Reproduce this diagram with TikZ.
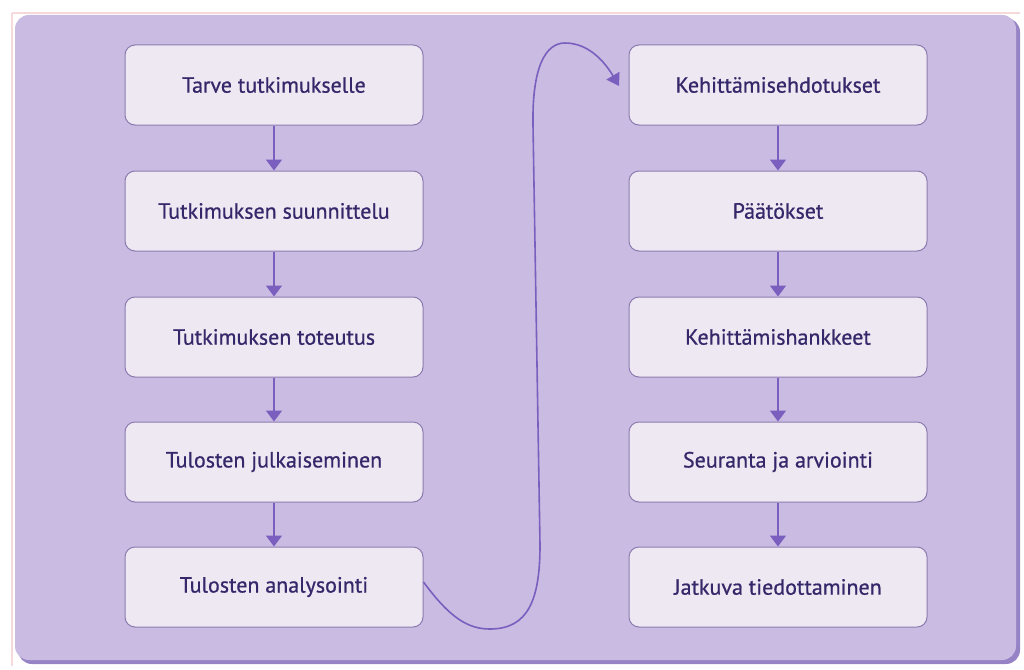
\documentclass[tikz,border=0pt]{standalone}
\usepackage{fontspec}
\setmainfont{PT Sans}
\newfontfamily\boxfont[FakeBold=0.7]{PT Sans}
\usetikzlibrary{arrows.meta}
\definecolor{panel}{HTML}{CABBE2}
\definecolor{panelshadow}{HTML}{9683C6}
\definecolor{boxfill}{HTML}{EEE8F2}
\definecolor{boxline}{HTML}{8C7BB0}
\definecolor{txt}{HTML}{35286A}
\definecolor{arr}{HTML}{7A5FBF}
\definecolor{pinkline}{HTML}{F6D9DA}
\tikzset{
  stepbox/.style={draw=boxline, line width=1pt, fill=boxfill, rounded corners=10pt,
    minimum width=298pt, minimum height=80pt, inner sep=0pt,
    text=txt, font=\boxfont\fontsize{22}{26}\selectfont},
  flow/.style={draw=arr, line width=1.6pt, -{Triangle[width=16pt,length=11pt]}},
  curve/.style={draw=arr, line width=1.6pt, -{Triangle[width=15pt,length=12pt]}}
}
\begin{document}
\begin{tikzpicture}[x=1pt,y=-1pt]
\useasboundingbox (0,0) rectangle (1024,669);
\fill[white] (0,0) rectangle (1024,669);
% outer frame line
\draw[pinkline, line width=1.2pt] (12,13) -- (1020,13);
\draw[pinkline, line width=1.2pt] (12,13) -- (12,666);
% panel shadow and panel
\fill[panelshadow, rounded corners=14pt] (18,18) rectangle (1020,664);
\fill[panel, rounded corners=14pt] (15,15) rectangle (1016,660);
% left column
\node[stepbox] (a1) at (274,85)  {Tarve tutkimukselle};
\node[stepbox] (a2) at (274,211) {Tutkimuksen suunnittelu};
\node[stepbox] (a3) at (274,337) {Tutkimuksen toteutus};
\node[stepbox] (a4) at (274,462) {Tulosten julkaiseminen};
\node[stepbox] (a5) at (274,587) {Tulosten analysointi};
% right column
\node[stepbox] (b1) at (778,85)  {Kehittämisehdotukset};
\node[stepbox] (b2) at (778,211) {Päätökset};
\node[stepbox] (b3) at (778,337) {Kehittämishankkeet};
\node[stepbox] (b4) at (778,462) {Seuranta ja arviointi};
\node[stepbox] (b5) at (778,587) {Jatkuva tiedottaminen};
% arrows
\draw[flow] (a1) -- (a2);
\draw[flow] (a2) -- (a3);
\draw[flow] (a3) -- (a4);
\draw[flow] (a4) -- (a5);
\draw[flow] (b1) -- (b2);
\draw[flow] (b2) -- (b3);
\draw[flow] (b3) -- (b4);
\draw[flow] (b4) -- (b5);
% connecting curve
\coordinate (c0) at ([yshift=5pt]a5.east);
\coordinate (c1) at (490,629);
\coordinate (c2) at (540,545);
\coordinate (c3) at (533,125);
\coordinate (c4) at (565,43);
\coordinate (c5) at (619,86);
\draw[curve] (c0) .. controls (450,618) and (468,629) .. (c1)
  .. controls (528,629) and (540,600) .. (c2)
  -- (c3)
  .. controls (532,68) and (545,43) .. (c4)
  .. controls (590,43) and (606,64) .. (c5);
\end{tikzpicture}
\end{document}
